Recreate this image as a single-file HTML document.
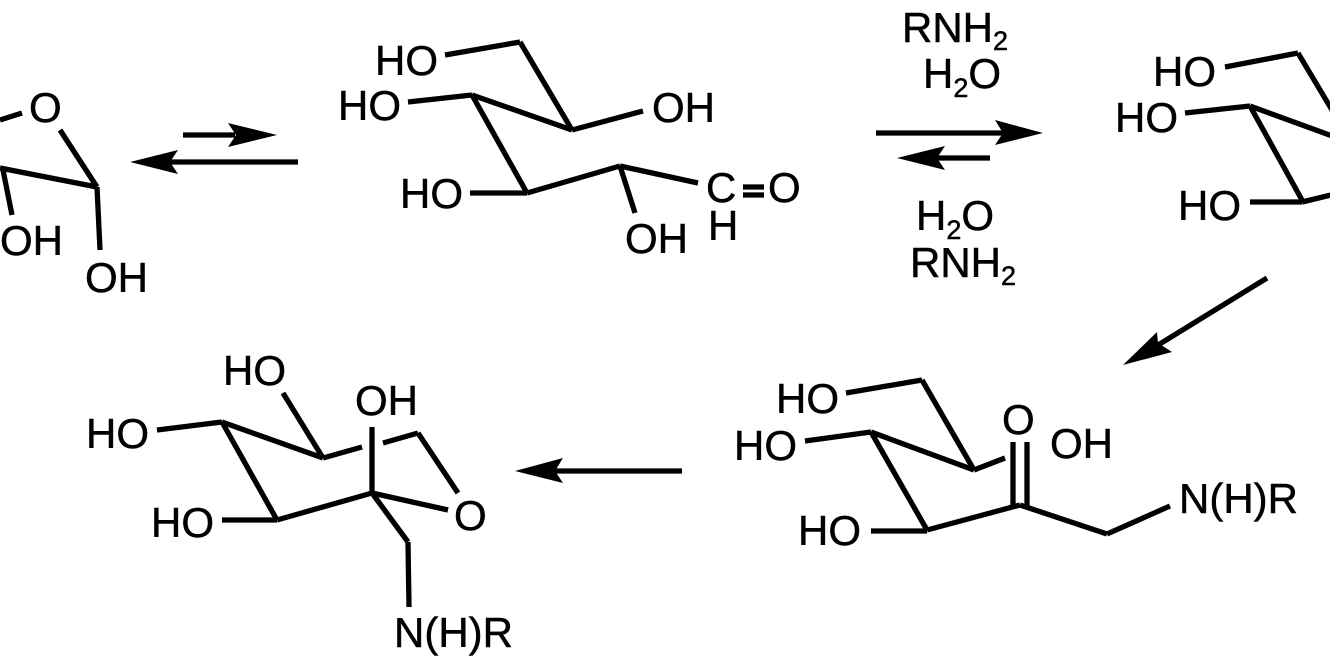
<!DOCTYPE html>
<html><head><meta charset="utf-8"><style>
html,body{margin:0;padding:0;background:#fff;}
svg{display:block;}
text{font-family:"Liberation Sans",Arial,sans-serif;font-size:42px;fill:#000;stroke:#000;stroke-width:0.5px;}
</style></head><body>
<svg width="1330" height="665" viewBox="0 0 1330 665" xmlns="http://www.w3.org/2000/svg">
<g stroke="#000" stroke-width="5.3" fill="none" stroke-linecap="butt">
<line x1="0" y1="120" x2="22" y2="113"/>
<line x1="60" y1="130" x2="97" y2="187"/>
<line x1="0" y1="168" x2="97" y2="187"/>
<line x1="97" y1="187" x2="100" y2="250"/>
<line x1="3" y1="170" x2="12" y2="215"/>
<line x1="183" y1="135" x2="235" y2="135"/>
<line x1="298" y1="162" x2="170" y2="162"/>
<line x1="445" y1="55" x2="520" y2="42"/>
<line x1="520" y1="42" x2="572" y2="130"/>
<line x1="408" y1="102" x2="472" y2="95"/>
<line x1="472" y1="95" x2="572" y2="130"/>
<line x1="572" y1="130" x2="643" y2="111"/>
<line x1="472" y1="95" x2="527" y2="193"/>
<line x1="470" y1="193" x2="527" y2="193"/>
<line x1="527" y1="193" x2="620" y2="166"/>
<line x1="620" y1="166" x2="635" y2="213"/>
<line x1="620" y1="166" x2="698" y2="183"/>
<line x1="743" y1="187" x2="764" y2="187"/>
<line x1="743" y1="195" x2="764" y2="195"/>
<line x1="876" y1="133" x2="1005" y2="133"/>
<line x1="990" y1="158" x2="935" y2="158"/>
<line x1="1225" y1="67" x2="1298" y2="53"/>
<line x1="1298" y1="53" x2="1335" y2="115"/>
<line x1="1185" y1="113" x2="1250" y2="106"/>
<line x1="1250" y1="106" x2="1335" y2="137"/>
<line x1="1250" y1="106" x2="1302" y2="200"/>
<line x1="1250" y1="202" x2="1302" y2="202"/>
<line x1="1302" y1="202" x2="1335" y2="194"/>
<line x1="1267" y1="278" x2="1150" y2="350"/>
<line x1="846" y1="393" x2="922" y2="380"/>
<line x1="922" y1="380" x2="974" y2="470"/>
<line x1="805" y1="441" x2="871" y2="432"/>
<line x1="871" y1="432" x2="974" y2="470"/>
<line x1="974" y1="470" x2="1005" y2="458"/>
<line x1="871" y1="432" x2="927" y2="530"/>
<line x1="871" y1="531" x2="927" y2="531"/>
<line x1="927" y1="530" x2="1020" y2="505"/>
<line x1="1013" y1="442" x2="1013" y2="505"/>
<line x1="1027" y1="442" x2="1027" y2="508"/>
<line x1="1020" y1="505" x2="1107" y2="534"/>
<line x1="1107" y1="534" x2="1170" y2="506"/>
<line x1="682" y1="471" x2="555" y2="471"/>
<line x1="283" y1="393" x2="323" y2="458"/>
<line x1="157" y1="430" x2="222" y2="422"/>
<line x1="222" y1="422" x2="323" y2="458"/>
<line x1="323" y1="458" x2="362" y2="447"/>
<line x1="383" y1="443" x2="418" y2="433"/>
<line x1="418" y1="433" x2="458" y2="493"/>
<line x1="372" y1="427" x2="372" y2="493"/>
<line x1="372" y1="493" x2="448" y2="510"/>
<line x1="222" y1="422" x2="277" y2="520"/>
<line x1="222" y1="520" x2="277" y2="520"/>
<line x1="277" y1="520" x2="372" y2="493"/>
<line x1="372" y1="493" x2="408" y2="542"/>
<line x1="408" y1="542" x2="409" y2="607"/>
</g>
<g fill="#000" stroke="none">
<polygon points="277,135 228,123 236,135 228,147"/>
<polygon points="130,162 178,150 170,162 178,174"/>
<polygon points="1043,133 995,120 1003,133 995,145"/>
<polygon points="897,158 945,146 937,158 945,170"/>
<polygon points="1123,365 1157,332 1158,343 1172,352"/>
<polygon points="515,471 563,458 555,471 563,483"/>
</g>
<text x="29" y="122">O</text>
<text x="0" y="255">OH</text>
<text x="85" y="292">OH</text>
<text x="375" y="75">HO</text>
<text x="338" y="120">HO</text>
<text x="652" y="122">OH</text>
<text x="400" y="208">HO</text>
<text x="625" y="253">OH</text>
<text x="706" y="202">C</text>
<text x="768" y="202">O</text>
<text x="708" y="240">H</text>
<text x="902" y="42">RNH<tspan font-size="27" dy="8">2</tspan></text>
<text x="923" y="88">H<tspan font-size="27" dy="9">2</tspan><tspan dy="-9">O</tspan></text>
<text x="916" y="230">H<tspan font-size="27" dy="9">2</tspan><tspan dy="-9">O</tspan></text>
<text x="910" y="277">RNH<tspan font-size="27" dy="8">2</tspan></text>
<text x="1153" y="86">HO</text>
<text x="1115" y="132">HO</text>
<text x="1178" y="220">HO</text>
<text x="776" y="413">HO</text>
<text x="734" y="460">HO</text>
<text x="798" y="545">HO</text>
<text x="1002" y="434">O</text>
<text x="1050" y="458">OH</text>
<text x="1179" y="513">N(H)R</text>
<text x="223" y="385">HO</text>
<text x="86" y="448">HO</text>
<text x="355" y="415">OH</text>
<text x="454" y="530">O</text>
<text x="151" y="537">HO</text>
<text x="394" y="647">N(H)R</text>
</svg>
</body></html>
